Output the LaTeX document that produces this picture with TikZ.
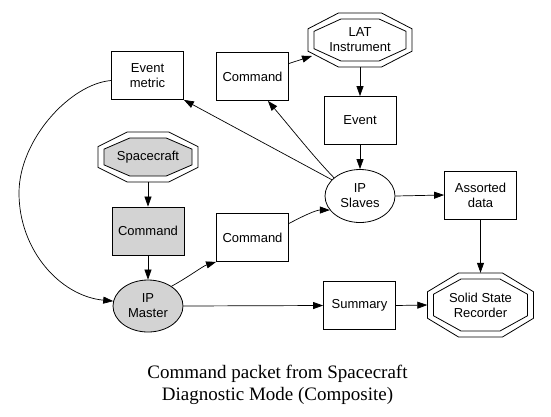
\documentclass[tikz,border=0pt]{standalone}
\usepackage{fontspec}
\setmainfont{Liberation Serif}
\newfontfamily\arialf{Liberation Sans}
\usetikzlibrary{shapes.geometric,arrows.meta,calc}
\newcommand\nodefont{\arialf\fontsize{13}{15}\selectfont}
\newcommand\octpath[3]{($(#1)+({#2},{0.4142*(#3)})$) -- ($(#1)+({0.4142*(#2)},{#3})$) -- ($(#1)+({-0.4142*(#2)},{#3})$) -- ($(#1)+({-(#2)},{0.4142*(#3)})$) -- ($(#1)+({-(#2)},{-0.4142*(#3)})$) -- ($(#1)+({-0.4142*(#2)},{-(#3)})$) -- ($(#1)+({0.4142*(#2)},{-(#3)})$) -- ($(#1)+({#2},{-0.4142*(#3)})$) -- cycle}
\newcommand\dbloct[4]{%
  \draw[line width=0.8pt] \octpath{#1}{#2}{#3};
  \draw[line width=0.8pt,fill=#4] \octpath{#1}{#2-6}{#3-6};
}
\definecolor{lgray}{HTML}{D3D3D3}
\begin{document}
\begin{tikzpicture}[x=1pt,y=-1pt,
  box/.style={draw,line width=0.8pt,rectangle,minimum width=72pt,minimum height=48pt,inner sep=0pt,align=center,font=\nodefont},
  ell/.style={draw,line width=0.8pt,ellipse,minimum width=70pt,minimum height=52pt,inner sep=0pt,align=center,font=\nodefont},
  oct/.style={rectangle,inner sep=0pt,align=center,font=\nodefont},
  arr/.style={line width=0.7pt,-{Triangle[length=10pt,width=7pt]}},
  captext/.style={anchor=base,font=\fontsize{19}{22}\selectfont}
]
\fill[white] (0,0) rectangle (551,416);
\useasboundingbox (0,0) rectangle (551,416);

% double octagons
\dbloct{360,40}{52}{27}{white}
\node[oct,minimum width=104pt,minimum height=54pt] (lat) at (360,40) {LAT\\Instrument};
\dbloct{148,157}{50}{25}{lgray}
\node[oct,minimum width=100pt,minimum height=50pt] (space) at (148,157) {Spacecraft};
\dbloct{480.5,305}{53}{32}{white}
\node[oct,minimum width=106pt,minimum height=64pt] (ssr) at (480.5,305) {Solid State\\Recorder};

% boxes
\node[box] (evm) at (147.5,75.5) {Event\\metric};
\node[box] (cmdt) at (252.5,76.5) {Command};
\node[box] (event) at (360,120.5) {Event};
\node[box] (assorted) at (480.5,195) {Assorted\\data};
\node[box,fill=lgray] (cmdg) at (148,231) {Command};
\node[box] (cmdm) at (252.5,237.5) {Command};
\node[box] (summary) at (359.5,305.5) {Summary};

% ellipses
\node[ell,minimum height=53pt] (slaves) at (360,196) {IP\\Slaves};
\node[ell,fill=lgray] (master) at (148,306) {IP\\Master};

\coordinate (latin) at ($(lat.center)+(-48,16)$);
\coordinate (cmdtin) at ($(cmdt.south east)+(-21,0)$);

% edges
\draw[arr] (lat.south) -- (event.north);
\draw[arr] (event.south) -- (slaves.north);
\draw[arr] (space.south) -- (cmdg.north);
\draw[arr] (cmdg.south) -- (master.north);
\draw[arr] (master.40) .. controls (190,276) and (203,266) .. (cmdm.south west);
\draw[arr] (cmdm.21) .. controls (303,216) and (316,210) .. (slaves.205);
\draw[arr] (slaves.150) -- (evm.south east);
\draw[arr] (slaves.145) .. controls (313,156) and (291,128) .. (cmdtin);
\draw[arr] ([yshift=13pt]cmdt.east) -- (latin);
\draw[arr] (slaves.east) -- (assorted.west);
\draw[arr] (assorted.south) -- (ssr.north);
\draw[arr] (master.east) -- (summary.west);
\draw[arr] (summary.east) -- (ssr.west);
\draw[arr] ([yshift=-5pt]evm.west) .. controls (70,84) and (19,140) .. (19,193)
  .. controls (19,250) and (60,296) .. (master.172);

% caption
\node[captext] (cap1) at (277.5,378) {Command packet from Spacecraft};
\node[captext] (cap2) at (277.5,400) {Diagnostic Mode (Composite)};
\end{tikzpicture}
\end{document}
